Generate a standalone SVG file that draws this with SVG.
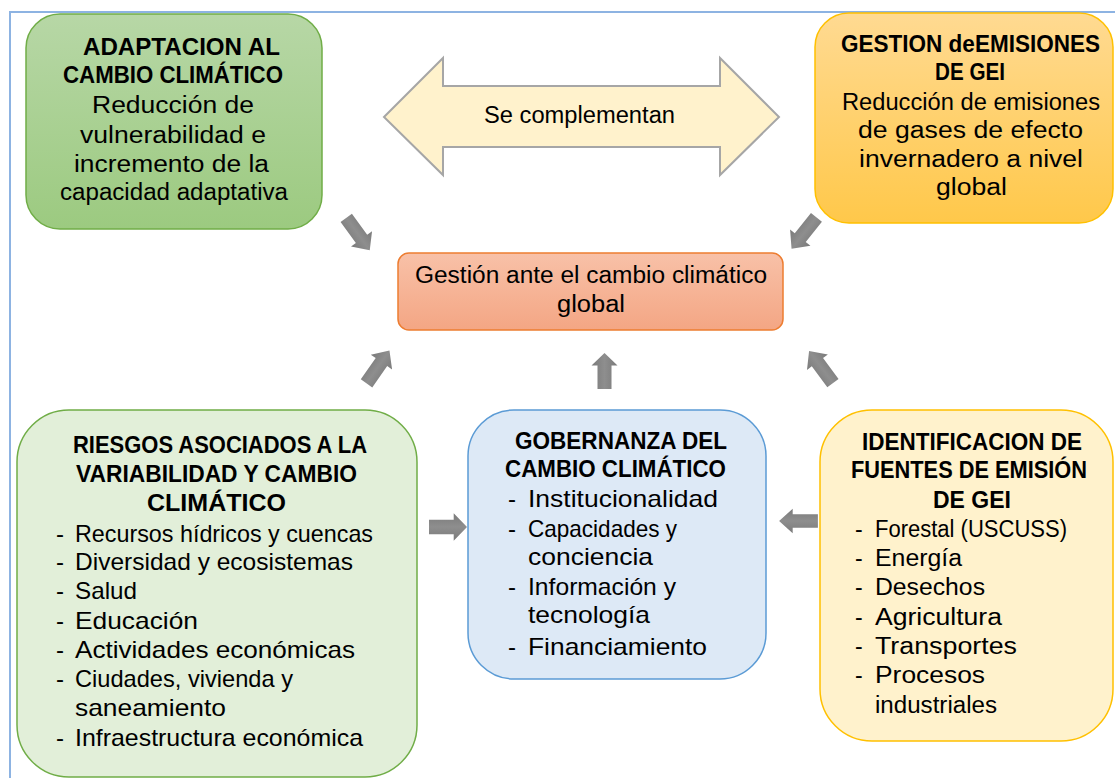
<svg xmlns="http://www.w3.org/2000/svg" xmlns:xlink="http://www.w3.org/1999/xlink" width="1115" height="778" viewBox="0 0 1115 778">
<style>
text{font-family:"Liberation Sans",Arial,sans-serif;fill:#000;}
.b{font-weight:bold;font-size:23px;}
.r{font-size:23px;}
.r4{font-size:24px;}
.arr{fill:url(#gArr);}
</style>
<defs>
<linearGradient id="gGreen" x1="0" y1="0" x2="0" y2="1"><stop offset="0" stop-color="#b7d7a6"/><stop offset="1" stop-color="#9cca80"/></linearGradient>
<linearGradient id="gOrange" x1="0" y1="0" x2="0" y2="1"><stop offset="0" stop-color="#ffda92"/><stop offset="1" stop-color="#ffc84a"/></linearGradient>
<linearGradient id="gSalmon" x1="0" y1="0" x2="0" y2="1"><stop offset="0" stop-color="#f8c1a8"/><stop offset="1" stop-color="#f4a684"/></linearGradient>
<linearGradient id="gArr" x1="0" y1="0" x2="0" y2="1"><stop offset="0" stop-color="#7a7a7a"/><stop offset="0.5" stop-color="#8e8e8e"/><stop offset="1" stop-color="#7a7a7a"/></linearGradient>
<path id="ga" d="M-20,-7 L6,-7 L6,-13 L20,0 L6,13 L6,7 L-20,7 Z"/>
</defs>
<rect x="0" y="0" width="1115" height="778" fill="#fff"/>
<rect id="frame" x="10" y="12" width="1125" height="790" fill="none" stroke="#8db3e2" stroke-width="2"/>

<g id="connectors">
<path id="dbl" d="M384,117 L443,58 L443,86 L720,86 L720,58 L779,117 L720,175 L720,147 L443,147 L443,175 Z" fill="#fff2cc" stroke="#a6a6a6" stroke-width="2"/>
<text class="r" x="484" y="123" textLength="191" lengthAdjust="spacingAndGlyphs">Se complementan</text>
<use href="#ga" class="arr" transform="translate(358,234) rotate(54)"/>
<use href="#ga" class="arr" transform="translate(804,233) rotate(128.5)"/>
<use href="#ga" class="arr" transform="translate(378,367) rotate(-55)"/>
<use href="#ga" class="arr" transform="translate(821,367) rotate(-126.6)"/>
<use href="#ga" class="arr" transform="translate(604.5,371) rotate(-90) scale(0.9,1)"/>
<use href="#ga" class="arr" transform="translate(448,527) scale(0.95,1.05)"/>
<use href="#ga" class="arr" transform="translate(798.5,521) rotate(180) scale(0.97,0.95)"/>
</g>

<g id="adaptacion">
<rect x="26" y="14" width="296" height="215" rx="34" fill="url(#gGreen)" stroke="#70ad47" stroke-width="1.5"/>
<text class="b" x="83" y="55" textLength="197" lengthAdjust="spacingAndGlyphs">ADAPTACION AL</text>
<text class="b" x="63" y="83" textLength="220" lengthAdjust="spacingAndGlyphs">CAMBIO CLIMÁTICO</text>
<text class="r" x="92" y="113" textLength="162" lengthAdjust="spacingAndGlyphs">Reducción de</text>
<text class="r" x="80" y="143" textLength="186" lengthAdjust="spacingAndGlyphs">vulnerabilidad e</text>
<text class="r" x="74" y="172" textLength="195" lengthAdjust="spacingAndGlyphs">incremento de la</text>
<text class="r" x="60" y="200" textLength="228" lengthAdjust="spacingAndGlyphs">capacidad adaptativa</text>
</g>

<g id="gestion-gei">
<rect x="815" y="13" width="298" height="210" rx="34" fill="url(#gOrange)" stroke="#ffc000" stroke-width="1.5"/>
<text class="b" x="841" y="52" textLength="259" lengthAdjust="spacingAndGlyphs">GESTION deEMISIONES</text>
<text class="b" x="935" y="80" textLength="70" lengthAdjust="spacingAndGlyphs">DE GEI</text>
<text class="r" x="842" y="110" textLength="258" lengthAdjust="spacingAndGlyphs">Reducción de emisiones</text>
<text class="r" x="858" y="138" textLength="225" lengthAdjust="spacingAndGlyphs">de gases de efecto</text>
<text class="r" x="859" y="167" textLength="224" lengthAdjust="spacingAndGlyphs">invernadero a nivel</text>
<text class="r" x="936" y="195" textLength="71" lengthAdjust="spacingAndGlyphs">global</text>
</g>

<g id="gestion-global">
<rect x="398" y="253" width="385" height="77" rx="11" fill="url(#gSalmon)" stroke="#ed7d31" stroke-width="1.5"/>
<text class="r" x="415" y="283" textLength="352" lengthAdjust="spacingAndGlyphs">Gestión ante el cambio climático</text>
<text class="r" x="557" y="312" textLength="68" lengthAdjust="spacingAndGlyphs">global</text>
</g>

<g id="riesgos">
<rect x="17" y="410" width="400" height="367" rx="52" fill="#e2efd9" stroke="#70ad47" stroke-width="1.5"/>
<text class="b" x="73" y="453" textLength="294" lengthAdjust="spacingAndGlyphs">RIESGOS ASOCIADOS A LA</text>
<text class="b" x="76" y="482" textLength="281" lengthAdjust="spacingAndGlyphs">VARIABILIDAD Y CAMBIO</text>
<text class="b" x="147" y="511" textLength="139" lengthAdjust="spacingAndGlyphs">CLIMÁTICO</text>
<text class="r4" x="56" y="542">-</text>
<text class="r4" x="75" y="542" textLength="298" lengthAdjust="spacingAndGlyphs">Recursos hídricos y cuencas</text>
<text class="r4" x="56" y="570">-</text>
<text class="r4" x="75" y="570" textLength="278" lengthAdjust="spacingAndGlyphs">Diversidad y ecosistemas</text>
<text class="r4" x="56" y="599">-</text>
<text class="r4" x="75" y="599" textLength="62" lengthAdjust="spacingAndGlyphs">Salud</text>
<text class="r4" x="56" y="629">-</text>
<text class="r4" x="75" y="629" textLength="123" lengthAdjust="spacingAndGlyphs">Educación</text>
<text class="r4" x="56" y="658">-</text>
<text class="r4" x="75" y="658" textLength="280" lengthAdjust="spacingAndGlyphs">Actividades económicas</text>
<text class="r4" x="56" y="687">-</text>
<text class="r4" x="75" y="687" textLength="218" lengthAdjust="spacingAndGlyphs">Ciudades, vivienda y</text>
<text class="r4" x="75" y="716" textLength="151" lengthAdjust="spacingAndGlyphs">saneamiento</text>
<text class="r4" x="56" y="746">-</text>
<text class="r4" x="75" y="746" textLength="288" lengthAdjust="spacingAndGlyphs">Infraestructura económica</text>
</g>

<g id="gobernanza">
<rect x="468" y="410" width="298" height="269" rx="46" fill="#dde9f6" stroke="#5b9bd5" stroke-width="1.5"/>
<text class="b" x="515" y="449" textLength="212" lengthAdjust="spacingAndGlyphs">GOBERNANZA DEL</text>
<text class="b" x="505" y="477" textLength="221" lengthAdjust="spacingAndGlyphs">CAMBIO CLIMÁTICO</text>
<text class="r4" x="508" y="507">-</text>
<text class="r4" x="528" y="507" textLength="190" lengthAdjust="spacingAndGlyphs">Institucionalidad</text>
<text class="r4" x="508" y="537">-</text>
<text class="r4" x="528" y="537" textLength="149" lengthAdjust="spacingAndGlyphs">Capacidades y</text>
<text class="r4" x="528" y="565" textLength="125" lengthAdjust="spacingAndGlyphs">conciencia</text>
<text class="r4" x="508" y="595">-</text>
<text class="r4" x="528" y="595" textLength="148" lengthAdjust="spacingAndGlyphs">Información y</text>
<text class="r4" x="528" y="623" textLength="122" lengthAdjust="spacingAndGlyphs">tecnología</text>
<text class="r4" x="508" y="655">-</text>
<text class="r4" x="528" y="655" textLength="179" lengthAdjust="spacingAndGlyphs">Financiamiento</text>
</g>

<g id="identificacion">
<rect x="820" y="410" width="293" height="331" rx="52" fill="#fff2cc" stroke="#ffc000" stroke-width="1.5"/>
<text class="b" x="862" y="450" textLength="220" lengthAdjust="spacingAndGlyphs">IDENTIFICACION DE</text>
<text class="b" x="851" y="478" textLength="236" lengthAdjust="spacingAndGlyphs">FUENTES DE EMISIÓN</text>
<text class="b" x="933" y="508" textLength="78" lengthAdjust="spacingAndGlyphs">DE GEI</text>
<text class="r" x="855" y="537">-</text>
<text class="r" x="875" y="537" textLength="192" lengthAdjust="spacingAndGlyphs">Forestal (USCUSS)</text>
<text class="r" x="855" y="566">-</text>
<text class="r" x="875" y="566" textLength="87" lengthAdjust="spacingAndGlyphs">Energía</text>
<text class="r" x="855" y="595">-</text>
<text class="r" x="875" y="595" textLength="110" lengthAdjust="spacingAndGlyphs">Desechos</text>
<text class="r" x="855" y="625">-</text>
<text class="r" x="875" y="625" textLength="127" lengthAdjust="spacingAndGlyphs">Agricultura</text>
<text class="r" x="855" y="654">-</text>
<text class="r" x="875" y="654" textLength="142" lengthAdjust="spacingAndGlyphs">Transportes</text>
<text class="r" x="855" y="683">-</text>
<text class="r" x="875" y="683" textLength="110" lengthAdjust="spacingAndGlyphs">Procesos</text>
<text class="r" x="875" y="713" textLength="122" lengthAdjust="spacingAndGlyphs">industriales</text>
</g>
</svg>
